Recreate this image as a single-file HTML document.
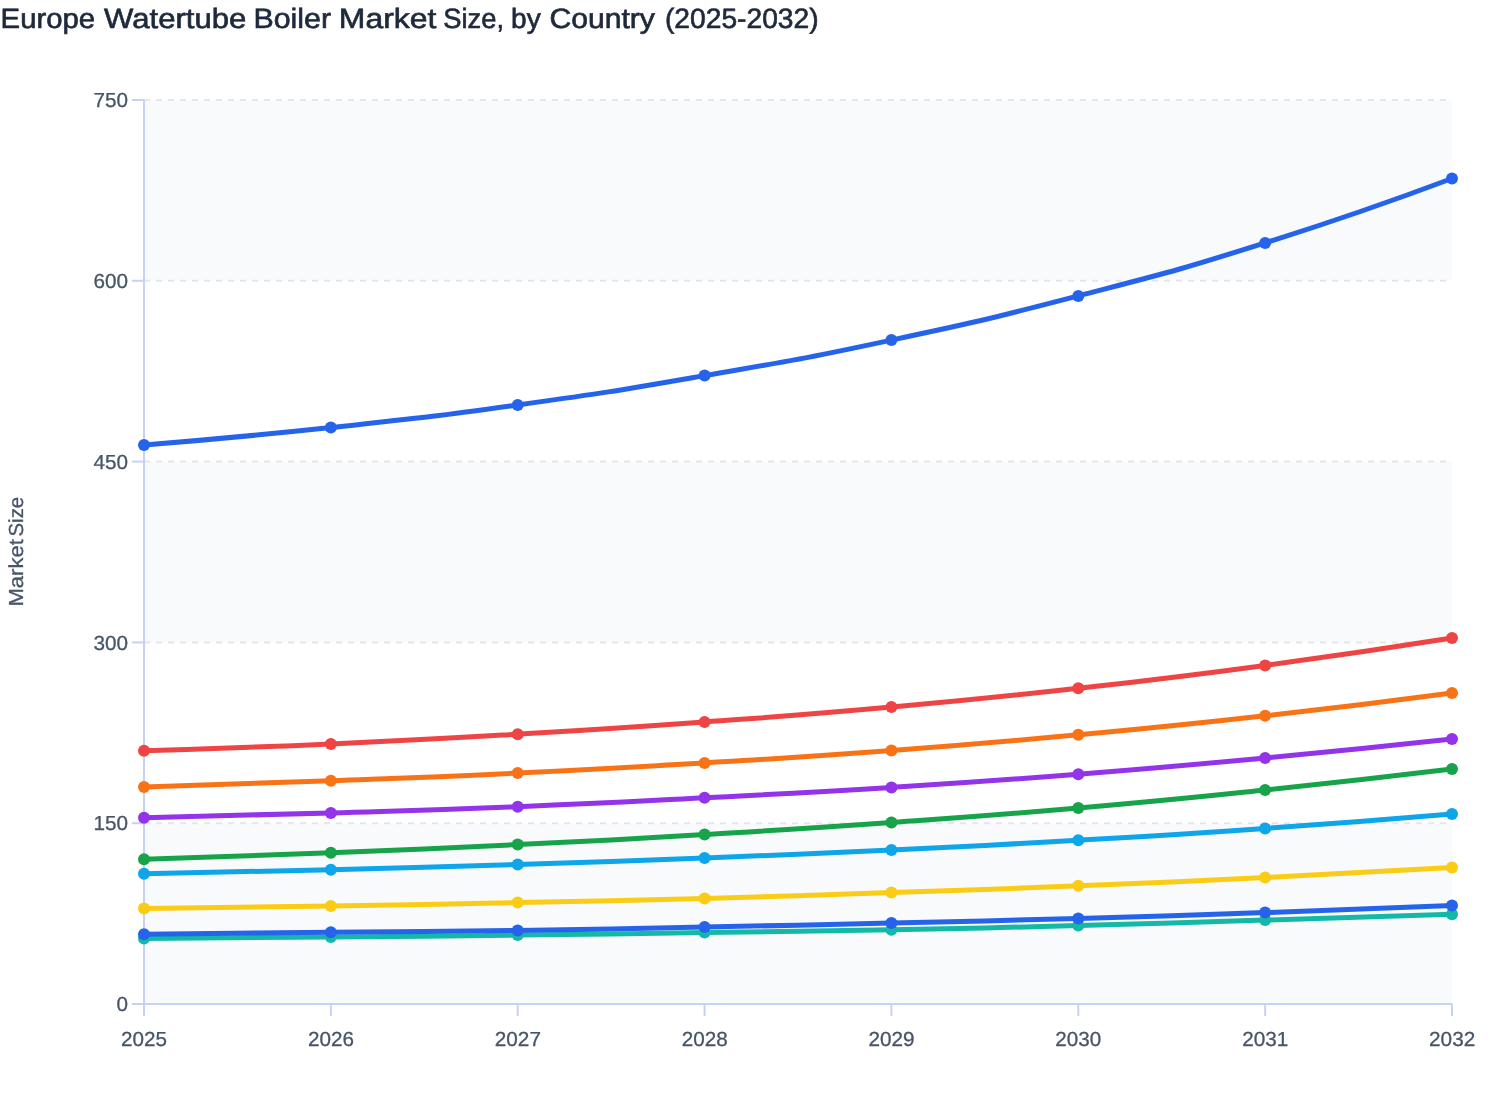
<!DOCTYPE html>
<html><head><meta charset="utf-8"><title>Europe Watertube Boiler Market Size</title>
<style>html,body{margin:0;padding:0;background:#fff;}body{width:1508px;height:1120px;overflow:hidden;position:relative;font-family:"Liberation Sans",sans-serif;}
svg{position:absolute;left:0;top:0;display:block;will-change:transform;}text{font-family:"Liberation Sans",sans-serif;text-rendering:geometricPrecision;}
.t{font-size:28px;fill:#1e293b;stroke:#1e293b;stroke-width:0.65px;}
.a{font-size:20.3px;fill:#475569;stroke:#475569;stroke-width:0.3px;}
</style></head><body>
<svg width="1508" height="1120" viewBox="0 0 1508 1120">
<text class="t" transform="translate(0.61 27.6) scale(1.0472 1)">Europe</text>
<text class="t" transform="translate(104.03 27.6) scale(1.1099 1)">Watertube</text>
<text class="t" transform="translate(253.43 27.6) scale(1.0836 1)">Boiler</text>
<text class="t" transform="translate(338.82 27.6) scale(1.1391 1)">Market</text>
<text class="t" transform="translate(443.25 27.6) scale(0.9760 1)">Size,</text>
<text class="t" transform="translate(511.06 27.6) scale(1.0024 1)">by</text>
<text class="t" transform="translate(549.44 27.6) scale(1.0757 1)">Country</text>
<text class="t" transform="translate(664.96 27.6) scale(1.0073 1)">(2025-2032)</text>
<rect x="144.00" y="100.00" width="1308.00" height="180.80" fill="#f8fafc"/>
<rect x="144.00" y="461.60" width="1308.00" height="180.80" fill="#f8fafc"/>
<rect x="144.00" y="823.20" width="1308.00" height="180.80" fill="#f8fafc"/>
<line x1="144.00" y1="100.00" x2="1452.00" y2="100.00" stroke="#e3e6ea" stroke-width="2" stroke-dasharray="6 6"/>
<line x1="144.00" y1="280.80" x2="1452.00" y2="280.80" stroke="#e3e6ea" stroke-width="2" stroke-dasharray="6 6"/>
<line x1="144.00" y1="461.60" x2="1452.00" y2="461.60" stroke="#e3e6ea" stroke-width="2" stroke-dasharray="6 6"/>
<line x1="144.00" y1="642.40" x2="1452.00" y2="642.40" stroke="#e3e6ea" stroke-width="2" stroke-dasharray="6 6"/>
<line x1="144.00" y1="823.20" x2="1452.00" y2="823.20" stroke="#e3e6ea" stroke-width="2" stroke-dasharray="6 6"/>
<line x1="144.00" y1="100.00" x2="144.00" y2="1004.00" stroke="#c6d1f6" stroke-width="2"/>
<line x1="144.00" y1="1004.00" x2="1452.00" y2="1004.00" stroke="#c6d1f6" stroke-width="2"/>
<line x1="132.00" y1="100.00" x2="144.00" y2="100.00" stroke="#c6d1f6" stroke-width="2"/>
<line x1="132.00" y1="280.80" x2="144.00" y2="280.80" stroke="#c6d1f6" stroke-width="2"/>
<line x1="132.00" y1="461.60" x2="144.00" y2="461.60" stroke="#c6d1f6" stroke-width="2"/>
<line x1="132.00" y1="642.40" x2="144.00" y2="642.40" stroke="#c6d1f6" stroke-width="2"/>
<line x1="132.00" y1="823.20" x2="144.00" y2="823.20" stroke="#c6d1f6" stroke-width="2"/>
<line x1="132.00" y1="1004.00" x2="144.00" y2="1004.00" stroke="#c6d1f6" stroke-width="2"/>
<line x1="144.00" y1="1004.00" x2="144.00" y2="1016.00" stroke="#c6d1f6" stroke-width="2"/>
<line x1="330.86" y1="1004.00" x2="330.86" y2="1016.00" stroke="#c6d1f6" stroke-width="2"/>
<line x1="517.71" y1="1004.00" x2="517.71" y2="1016.00" stroke="#c6d1f6" stroke-width="2"/>
<line x1="704.57" y1="1004.00" x2="704.57" y2="1016.00" stroke="#c6d1f6" stroke-width="2"/>
<line x1="891.43" y1="1004.00" x2="891.43" y2="1016.00" stroke="#c6d1f6" stroke-width="2"/>
<line x1="1078.29" y1="1004.00" x2="1078.29" y2="1016.00" stroke="#c6d1f6" stroke-width="2"/>
<line x1="1265.14" y1="1004.00" x2="1265.14" y2="1016.00" stroke="#c6d1f6" stroke-width="2"/>
<line x1="1452.00" y1="1004.00" x2="1452.00" y2="1016.00" stroke="#c6d1f6" stroke-width="2"/>
<text class="a" transform="translate(93.54 107.25) scale(1.0200 1)">750</text>
<text class="a" transform="translate(93.54 288.05) scale(1.0200 1)">600</text>
<text class="a" transform="translate(93.54 468.85) scale(1.0200 1)">450</text>
<text class="a" transform="translate(93.54 649.65) scale(1.0200 1)">300</text>
<text class="a" transform="translate(93.54 830.45) scale(1.0200 1)">150</text>
<text class="a" transform="translate(116.47 1011.25) scale(1.0200 1)">0</text>
<text class="a" transform="translate(121.07 1046) scale(1.0179 1)">2025</text>
<text class="a" transform="translate(307.93 1046) scale(1.0190 1)">2026</text>
<text class="a" transform="translate(494.78 1046) scale(1.0225 1)">2027</text>
<text class="a" transform="translate(681.64 1046) scale(1.0208 1)">2028</text>
<text class="a" transform="translate(868.50 1046) scale(1.0219 1)">2029</text>
<text class="a" transform="translate(1055.36 1046) scale(1.0160 1)">2030</text>
<text class="a" transform="translate(1242.21 1046) scale(1.0212 1)">2031</text>
<text class="a" transform="translate(1429.07 1046) scale(1.0225 1)">2032</text>
<text class="a" transform="translate(23.1 606.54) rotate(-90) scale(1.0859 1)">Market</text>
<text class="a" transform="translate(23.1 536.50) rotate(-90) scale(1.0060 1)">Size</text>
<path d="M144.00 445.00 C144.00 445.00 237.56 437.51 330.86 427.50 C424.42 417.46 424.51 417.84 517.71 404.90 C611.37 391.89 611.40 391.75 704.57 375.60 C798.26 359.35 798.44 359.93 891.43 340.10 C985.30 320.08 985.39 320.06 1078.29 295.90 C1172.25 271.46 1172.53 271.99 1265.14 242.90 C1359.39 213.29 1452.00 178.50 1452.00 178.50" fill="none" stroke="#2563eb" stroke-width="5" stroke-linejoin="round" stroke-linecap="butt"/>
<circle cx="144.00" cy="445.00" r="6" fill="#2563eb"/>
<circle cx="330.86" cy="427.50" r="6" fill="#2563eb"/>
<circle cx="517.71" cy="404.90" r="6" fill="#2563eb"/>
<circle cx="704.57" cy="375.60" r="6" fill="#2563eb"/>
<circle cx="891.43" cy="340.10" r="6" fill="#2563eb"/>
<circle cx="1078.29" cy="295.90" r="6" fill="#2563eb"/>
<circle cx="1265.14" cy="242.90" r="6" fill="#2563eb"/>
<circle cx="1452.00" cy="178.50" r="6" fill="#2563eb"/>
<path d="M144.00 750.80 C144.00 750.80 237.46 748.05 330.86 743.90 C424.32 739.75 424.32 739.67 517.71 734.20 C611.18 728.72 611.19 728.77 704.57 722.00 C798.05 715.22 798.09 715.52 891.43 707.10 C984.94 698.67 984.97 698.71 1078.29 688.30 C1171.83 677.86 1171.86 677.95 1265.14 665.40 C1358.72 652.80 1452.00 638.00 1452.00 638.00" fill="none" stroke="#ef4444" stroke-width="5" stroke-linejoin="round" stroke-linecap="butt"/>
<circle cx="144.00" cy="750.80" r="6" fill="#ef4444"/>
<circle cx="330.86" cy="743.90" r="6" fill="#ef4444"/>
<circle cx="517.71" cy="734.20" r="6" fill="#ef4444"/>
<circle cx="704.57" cy="722.00" r="6" fill="#ef4444"/>
<circle cx="891.43" cy="707.10" r="6" fill="#ef4444"/>
<circle cx="1078.29" cy="688.30" r="6" fill="#ef4444"/>
<circle cx="1265.14" cy="665.40" r="6" fill="#ef4444"/>
<circle cx="1452.00" cy="638.00" r="6" fill="#ef4444"/>
<path d="M144.00 786.90 C144.00 786.90 237.44 784.25 330.86 780.80 C424.30 777.35 424.32 777.57 517.71 773.10 C611.17 768.62 611.18 768.55 704.57 762.90 C798.03 757.25 798.06 757.52 891.43 750.50 C984.92 743.47 984.93 743.47 1078.29 734.80 C1171.79 726.12 1171.82 726.26 1265.14 715.80 C1358.68 705.31 1452.00 692.90 1452.00 692.90" fill="none" stroke="#f97316" stroke-width="5" stroke-linejoin="round" stroke-linecap="butt"/>
<circle cx="144.00" cy="786.90" r="6" fill="#f97316"/>
<circle cx="330.86" cy="780.80" r="6" fill="#f97316"/>
<circle cx="517.71" cy="773.10" r="6" fill="#f97316"/>
<circle cx="704.57" cy="762.90" r="6" fill="#f97316"/>
<circle cx="891.43" cy="750.50" r="6" fill="#f97316"/>
<circle cx="1078.29" cy="734.80" r="6" fill="#f97316"/>
<circle cx="1265.14" cy="715.80" r="6" fill="#f97316"/>
<circle cx="1452.00" cy="692.90" r="6" fill="#f97316"/>
<path d="M144.00 817.70 C144.00 817.70 237.44 815.65 330.86 812.90 C424.30 810.15 424.31 810.47 517.71 806.70 C611.17 802.92 611.16 802.62 704.57 797.80 C798.02 792.97 798.04 793.30 891.43 787.40 C984.90 781.50 984.92 781.55 1078.29 774.20 C1171.77 766.85 1171.78 766.79 1265.14 758.00 C1358.64 749.19 1452.00 739.00 1452.00 739.00" fill="none" stroke="#9333ea" stroke-width="5" stroke-linejoin="round" stroke-linecap="butt"/>
<circle cx="144.00" cy="817.70" r="6" fill="#9333ea"/>
<circle cx="330.86" cy="812.90" r="6" fill="#9333ea"/>
<circle cx="517.71" cy="806.70" r="6" fill="#9333ea"/>
<circle cx="704.57" cy="797.80" r="6" fill="#9333ea"/>
<circle cx="891.43" cy="787.40" r="6" fill="#9333ea"/>
<circle cx="1078.29" cy="774.20" r="6" fill="#9333ea"/>
<circle cx="1265.14" cy="758.00" r="6" fill="#9333ea"/>
<circle cx="1452.00" cy="739.00" r="6" fill="#9333ea"/>
<path d="M144.00 859.30 C144.00 859.30 237.45 856.47 330.86 852.80 C424.30 849.12 424.31 849.17 517.71 844.60 C611.17 840.02 611.17 840.02 704.57 834.50 C798.03 828.97 798.04 829.12 891.43 822.50 C984.90 815.87 984.93 816.12 1078.29 808.00 C1171.79 799.87 1171.79 799.74 1265.14 790.00 C1358.65 780.24 1452.00 769.00 1452.00 769.00" fill="none" stroke="#16a34a" stroke-width="5" stroke-linejoin="round" stroke-linecap="butt"/>
<circle cx="144.00" cy="859.30" r="6" fill="#16a34a"/>
<circle cx="330.86" cy="852.80" r="6" fill="#16a34a"/>
<circle cx="517.71" cy="844.60" r="6" fill="#16a34a"/>
<circle cx="704.57" cy="834.50" r="6" fill="#16a34a"/>
<circle cx="891.43" cy="822.50" r="6" fill="#16a34a"/>
<circle cx="1078.29" cy="808.00" r="6" fill="#16a34a"/>
<circle cx="1265.14" cy="790.00" r="6" fill="#16a34a"/>
<circle cx="1452.00" cy="769.00" r="6" fill="#16a34a"/>
<path d="M144.00 873.70 C144.00 873.70 237.44 872.12 330.86 869.80 C424.30 867.47 424.29 867.35 517.71 864.40 C611.15 861.45 611.16 861.62 704.57 858.00 C798.02 854.37 798.02 854.32 891.43 849.90 C984.87 845.47 984.89 845.67 1078.29 840.30 C1171.75 834.92 1171.76 835.00 1265.14 828.40 C1358.62 821.80 1452.00 813.90 1452.00 813.90" fill="none" stroke="#0ea5e9" stroke-width="5" stroke-linejoin="round" stroke-linecap="butt"/>
<circle cx="144.00" cy="873.70" r="6" fill="#0ea5e9"/>
<circle cx="330.86" cy="869.80" r="6" fill="#0ea5e9"/>
<circle cx="517.71" cy="864.40" r="6" fill="#0ea5e9"/>
<circle cx="704.57" cy="858.00" r="6" fill="#0ea5e9"/>
<circle cx="891.43" cy="849.90" r="6" fill="#0ea5e9"/>
<circle cx="1078.29" cy="840.30" r="6" fill="#0ea5e9"/>
<circle cx="1265.14" cy="828.40" r="6" fill="#0ea5e9"/>
<circle cx="1452.00" cy="813.90" r="6" fill="#0ea5e9"/>
<path d="M144.00 908.60 C144.00 908.60 237.43 907.52 330.86 906.00 C424.29 904.47 424.29 904.40 517.71 902.50 C611.15 900.60 611.15 900.87 704.57 898.40 C798.01 895.92 798.01 895.75 891.43 892.60 C984.87 889.45 984.87 889.57 1078.29 885.80 C1171.73 882.02 1171.73 882.05 1265.14 877.50 C1358.59 872.95 1452.00 867.60 1452.00 867.60" fill="none" stroke="#facc15" stroke-width="5" stroke-linejoin="round" stroke-linecap="butt"/>
<circle cx="144.00" cy="908.60" r="6" fill="#facc15"/>
<circle cx="330.86" cy="906.00" r="6" fill="#facc15"/>
<circle cx="517.71" cy="902.50" r="6" fill="#facc15"/>
<circle cx="704.57" cy="898.40" r="6" fill="#facc15"/>
<circle cx="891.43" cy="892.60" r="6" fill="#facc15"/>
<circle cx="1078.29" cy="885.80" r="6" fill="#facc15"/>
<circle cx="1265.14" cy="877.50" r="6" fill="#facc15"/>
<circle cx="1452.00" cy="867.60" r="6" fill="#facc15"/>
<path d="M144.00 938.50 C144.00 938.50 237.43 937.85 330.86 937.00 C424.29 936.15 424.29 936.22 517.71 935.10 C611.14 933.97 611.14 933.85 704.57 932.50 C798.00 931.15 798.01 931.42 891.43 929.70 C984.86 927.97 984.87 928.00 1078.29 925.60 C1171.72 923.20 1171.72 922.92 1265.14 920.10 C1358.57 917.27 1452.00 914.30 1452.00 914.30" fill="none" stroke="#14b8a6" stroke-width="5" stroke-linejoin="round" stroke-linecap="butt"/>
<circle cx="144.00" cy="938.50" r="6" fill="#14b8a6"/>
<circle cx="330.86" cy="937.00" r="6" fill="#14b8a6"/>
<circle cx="517.71" cy="935.10" r="6" fill="#14b8a6"/>
<circle cx="704.57" cy="932.50" r="6" fill="#14b8a6"/>
<circle cx="891.43" cy="929.70" r="6" fill="#14b8a6"/>
<circle cx="1078.29" cy="925.60" r="6" fill="#14b8a6"/>
<circle cx="1265.14" cy="920.10" r="6" fill="#14b8a6"/>
<circle cx="1452.00" cy="914.30" r="6" fill="#14b8a6"/>
<path d="M144.00 934.20 C144.00 934.20 237.43 933.15 330.86 932.20 C424.29 931.25 424.29 931.70 517.71 930.40 C611.15 929.10 611.15 928.82 704.57 927.00 C798.00 925.17 798.00 925.25 891.43 923.10 C984.86 920.95 984.86 921.02 1078.29 918.40 C1171.72 915.77 1171.73 915.85 1265.14 912.60 C1358.58 909.35 1452.00 905.40 1452.00 905.40" fill="none" stroke="#2563eb" stroke-width="5" stroke-linejoin="round" stroke-linecap="butt"/>
<circle cx="144.00" cy="934.20" r="6" fill="#2563eb"/>
<circle cx="330.86" cy="932.20" r="6" fill="#2563eb"/>
<circle cx="517.71" cy="930.40" r="6" fill="#2563eb"/>
<circle cx="704.57" cy="927.00" r="6" fill="#2563eb"/>
<circle cx="891.43" cy="923.10" r="6" fill="#2563eb"/>
<circle cx="1078.29" cy="918.40" r="6" fill="#2563eb"/>
<circle cx="1265.14" cy="912.60" r="6" fill="#2563eb"/>
<circle cx="1452.00" cy="905.40" r="6" fill="#2563eb"/>
</svg></body></html>
